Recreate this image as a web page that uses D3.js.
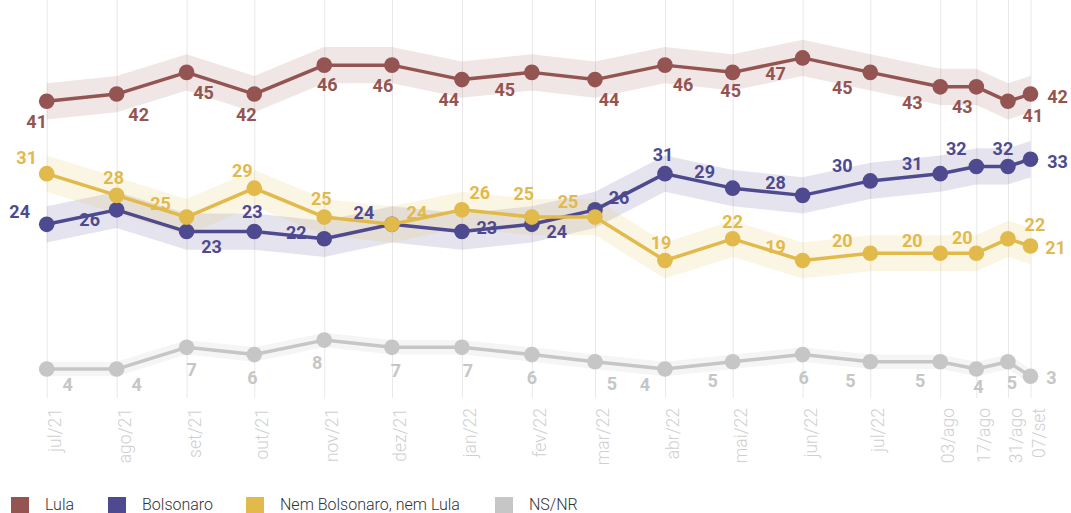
<!DOCTYPE html>
<html>
<head>
<meta charset="utf-8">
<script src="https://cdnjs.cloudflare.com/ajax/libs/d3/7.8.5/d3.min.js"></script>
<style>
  body { margin: 0; background: #fff; }
  svg { display: block; font-family: Roboto, "Noto Sans", sans-serif; }
</style>
</head>
<body>
<svg id="chart" width="1071" height="513"></svg>
<script>
// ---- data ----
const dates = ["2021-07-01","2021-08-01","2021-09-01","2021-10-01","2021-11-01","2021-12-01",
  "2022-01-01","2022-02-01","2022-03-01","2022-04-01","2022-05-01","2022-06-01","2022-07-01",
  "2022-08-01","2022-08-17","2022-08-31","2022-09-10"];
const tickLabels = ["jul/21","ago/21","set/21","out/21","nov/21","dez/21","jan/22","fev/22",
  "mar/22","abr/22","mai/22","jun/22","jul/22","03/ago","17/ago","31/ago","07/set"];
const seriesNames = ["Lula","Bolsonaro","Nem Bolsonaro, nem Lula","NS/NR"];
const lula      = [41,42,45,42,46,46,44,45,44,46,45,47,45,43,43,41,42];
const bolsonaro = [24,26,23,23,22,24,23,24,26,31,29,28,30,31,32,32,33];
const nem       = [31,28,25,29,25,24,26,25,25,19,22,19,20,20,20,22,21];
const nsnr      = [4,4,7,6,8,7,7,6,5,4,5,6,5,5,4,5,3];

// ---- styling / layout (not data) ----
const colors = ["#945451","#4f4a8f","#e2b94b","#c6c6c6"];
const bandMargin = [2.5, 2.5, 2.5, 1];
const legendX = [11, 108, 246, 495];
const labelOffsets = [
  [[-10,20],[22,20],[17,20],[-8,20],[3,19],[-9,20],[-13,20],[-27,17],[14,20],[18,19],[-2,18],[-27,16],[-28,15],[-28,16],[-14,20],[25,14],[27,2]],
  [[-27,-13],[-27,10],[25,15],[-2,-20],[-28,-6],[-28,-12],[25,-4],[25,7],[24,-12],[-2,-19],[-28,-17],[-27,-13],[-28,-15],[-28,-10],[-20,-18],[-5,-18],[27,2]],
  [[-20,-16],[-3,-18],[-26,-14],[-12,-18],[-3,-19],[25,-12],[18,-17],[-8,-24],[-27,-16],[-4,-18],[0,-17],[-27,-14],[-28,-13],[-28,-13],[-14,-16],[27,-14],[25,1]],
  [[21,15],[20,15],[5,22],[-2,23],[-7,22],[4,23],[6,23],[0,23],[17,22],[-20,15],[-20,19],[1,23],[-20,19],[-20,19],[2,17],[4,21],[21,1]]
];

const parse = d3.utcParse("%Y-%m-%d");
const xDates = dates.map(parse);
const allSeries = [lula, bolsonaro, nem, nsnr];

const svg = d3.select("#chart");
const x = d3.scaleUtc().domain(d3.extent(xDates)).range([46.7, 1030.5]);
const y = d3.scaleLinear().domain([0, 55]).range([398, 0]);

// grid + x labels via axis
const axis = d3.axisBottom(x)
  .tickValues(xDates)
  .tickFormat((d, i) => tickLabels[i])
  .tickSizeInner(-398)
  .tickSizeOuter(0);
const gAxis = svg.append("g").attr("transform", "translate(0,398)").call(axis);
gAxis.select(".domain").remove();
gAxis.selectAll(".tick line").attr("stroke", "#e8e8e8").attr("stroke-width", 1);
gAxis.selectAll(".tick text")
  .attr("transform", "rotate(-90)")
  .attr("x", -10).attr("y", 13.5).attr("dy", 0)
  .attr("text-anchor", "end")
  .attr("fill", "#d0d0d0")
  .style("font-size", "17.5px")
  .style("font-weight", 300)
  .style("font-family", "Roboto, sans-serif");

// bands
allSeries.forEach((vals, s) => {
  const area = d3.area()
    .x((d, i) => x(xDates[i]))
    .y0(d => y(d - bandMargin[s]))
    .y1(d => y(d + bandMargin[s]));
  svg.append("path").datum(vals)
    .attr("d", area)
    .attr("fill", colors[s])
    .attr("fill-opacity", s === 3 ? 0.18 : 0.15);
});

// lines + dots
const drawOrder = [3, 0, 1, 2];
drawOrder.forEach(s => {
  const vals = allSeries[s];
  const line = d3.line().x((d, i) => x(xDates[i])).y(d => y(d));
  svg.append("path").datum(vals)
    .attr("d", line).attr("fill", "none")
    .attr("stroke", colors[s]).attr("stroke-width", 3.5)
    .attr("stroke-linejoin", "round");
  svg.append("g").selectAll("circle").data(vals).join("circle")
    .attr("cx", (d, i) => x(xDates[i]))
    .attr("cy", d => y(d))
    .attr("r", 7.8)
    .attr("fill", colors[s]);
});

// value labels
allSeries.forEach((vals, s) => {
  svg.append("g").selectAll("text").data(vals).join("text")
    .attr("x", (d, i) => x(xDates[i]) + labelOffsets[s][i][0])
    .attr("y", (d, i) => y(d) + labelOffsets[s][i][1])
    .attr("dy", "0.36em")
    .attr("text-anchor", "middle")
    .attr("fill", colors[s])
    .style("font-size", "18px")
    .style("font-weight", 700)
    .text(d => d);
});

// legend
const legend = svg.append("g");
seriesNames.forEach((name, s) => {
  legend.append("rect").attr("x", legendX[s]).attr("y", 497).attr("width", 18).attr("height", 18)
    .attr("fill", colors[s]);
  legend.append("text").attr("x", legendX[s] + 34).attr("y", 510)
    .attr("fill", "#333").style("font-size", "16px").style("font-weight", 300)
    .text(name);
});
</script>
</body>
</html>
